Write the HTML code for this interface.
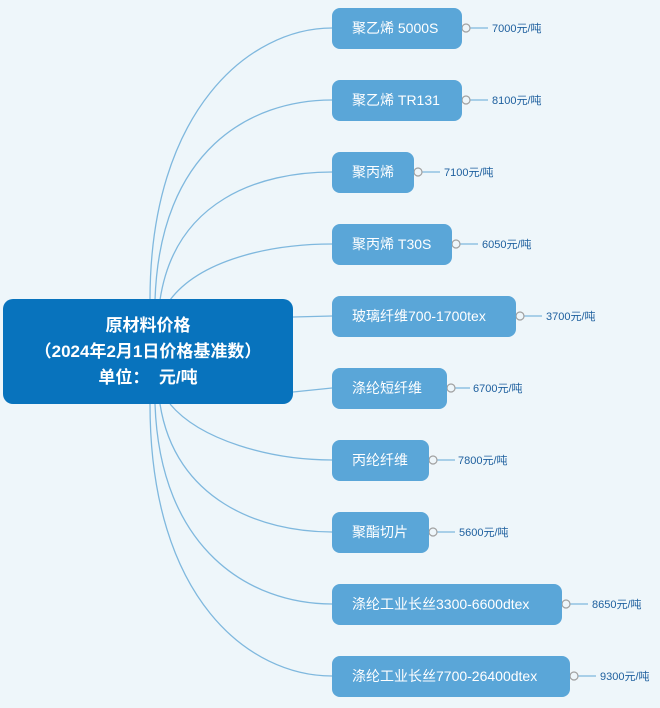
<!DOCTYPE html>
<html><head><meta charset="utf-8"><style>
body{margin:0;width:660px;height:708px;background:#eef6fa;position:relative;overflow:hidden;font-family:"Liberation Sans","Noto Sans CJK SC",sans-serif}
.root{position:absolute;left:3px;top:299px;width:290px;height:105px;background:#0873bd;border-radius:10px;color:#fff;font-weight:bold;font-size:17px;line-height:26px;text-align:center;display:flex;flex-direction:column;justify-content:center}
.n{position:absolute;left:332px;height:41px;background:#5aa6d8;border-radius:8px;color:#fff;font-size:14px;line-height:41px;padding-left:20px;box-sizing:border-box}
.v{position:absolute;font-size:11px;color:#1d5f9e;line-height:14px}
svg{position:absolute;left:0;top:0}
</style></head><body>
<svg width="660" height="708">
<g fill="none" stroke="#7fb8de" stroke-width="1.3">
<path d="M150 300 C150 110,250 28,332 28"/>
<path d="M155 300 C160 150,250 100,332 100"/>
<path d="M160 300 C175 200,260 172,332 172"/>
<path d="M170 300 C200 260,270 244,332 244"/>
<path d="M293 317 L332 316"/>
<path d="M293 392 L332 388"/>
<path d="M170 404 C200 440,270 460,332 460"/>
<path d="M160 404 C175 500,260 532,332 532"/>
<path d="M155 404 C160 550,250 604,332 604"/>
<path d="M150 404 C150 600,250 676,332 676"/>
</g>
<g stroke="#7fb8de" stroke-width="1.3">
<line x1="470" y1="28" x2="488" y2="28"/><line x1="470" y1="100" x2="488" y2="100"/>
<line x1="422" y1="172" x2="440" y2="172"/><line x1="460" y1="244" x2="478" y2="244"/>
<line x1="524" y1="316" x2="542" y2="316"/><line x1="455" y1="388" x2="470" y2="388"/>
<line x1="437" y1="460" x2="455" y2="460"/><line x1="437" y1="532" x2="455" y2="532"/>
<line x1="570" y1="604" x2="588" y2="604"/><line x1="578" y1="676" x2="596" y2="676"/>
</g>
<g fill="#eef6fa" stroke="#a0a0a0" stroke-width="1.2">
<circle cx="466" cy="28" r="4"/><circle cx="466" cy="100" r="4"/><circle cx="418" cy="172" r="4"/>
<circle cx="456" cy="244" r="4"/><circle cx="520" cy="316" r="4"/><circle cx="451" cy="388" r="4"/>
<circle cx="433" cy="460" r="4"/><circle cx="433" cy="532" r="4"/><circle cx="566" cy="604" r="4"/>
<circle cx="574" cy="676" r="4"/>
</g>
</svg>
<div class="root"><div>原材料价格</div><div>（2024年2月1日价格基准数）</div><div>单位：&nbsp; 元/吨</div></div>
<div class="n" style="top:8px;width:130px">聚乙烯 5000S</div>
<div class="n" style="top:80px;width:130px">聚乙烯 TR131</div>
<div class="n" style="top:152px;width:82px">聚丙烯</div>
<div class="n" style="top:224px;width:120px">聚丙烯 T30S</div>
<div class="n" style="top:296px;width:184px">玻璃纤维700-1700tex</div>
<div class="n" style="top:368px;width:115px">涤纶短纤维</div>
<div class="n" style="top:440px;width:97px">丙纶纤维</div>
<div class="n" style="top:512px;width:97px">聚酯切片</div>
<div class="n" style="top:584px;width:230px">涤纶工业长丝3300-6600dtex</div>
<div class="n" style="top:656px;width:238px">涤纶工业长丝7700-26400dtex</div>
<div class="v" style="left:492px;top:22px">7000元/吨</div>
<div class="v" style="left:492px;top:94px">8100元/吨</div>
<div class="v" style="left:444px;top:166px">7100元/吨</div>
<div class="v" style="left:482px;top:238px">6050元/吨</div>
<div class="v" style="left:546px;top:310px">3700元/吨</div>
<div class="v" style="left:473px;top:382px">6700元/吨</div>
<div class="v" style="left:458px;top:454px">7800元/吨</div>
<div class="v" style="left:459px;top:526px">5600元/吨</div>
<div class="v" style="left:592px;top:598px">8650元/吨</div>
<div class="v" style="left:600px;top:670px">9300元/吨</div>
</body></html>
